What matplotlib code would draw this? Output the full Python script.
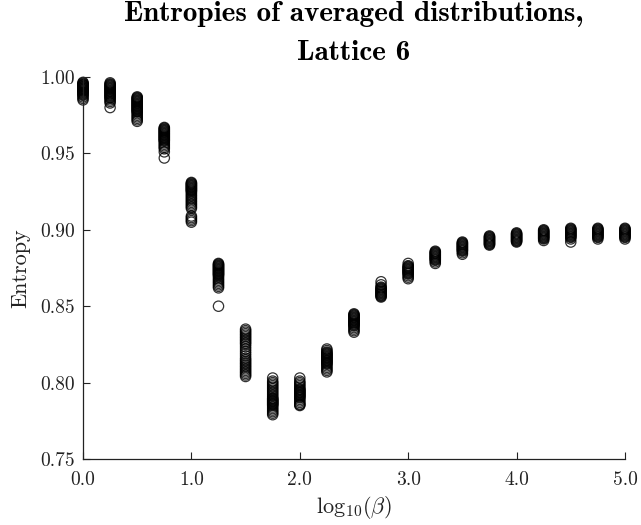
import numpy as np
import matplotlib
matplotlib.use('Agg')
import matplotlib.pyplot as plt
from matplotlib.ticker import FormatStrFormatter

# log10(beta) positions and entropy samples
log_beta = [0.0, 0.25, 0.5, 0.75, 1.0, 1.25, 1.5, 1.75, 2.0, 2.25, 2.5,
            2.75, 3.0, 3.25, 3.5, 3.75, 4.0, 4.25, 4.5, 4.75, 5.0]

entropy = [
    [0.9965, 0.996, 0.9955, 0.995, 0.9948, 0.9945, 0.994, 0.9937, 0.9935, 0.993, 0.9927, 0.9925, 0.992, 0.9917,
     0.9915, 0.991, 0.9905, 0.990, 0.9895, 0.989, 0.9885, 0.988, 0.987, 0.986, 0.985],
    [0.9962, 0.9955, 0.995, 0.9945, 0.994, 0.9935, 0.993, 0.9925, 0.992, 0.9915, 0.991, 0.9905, 0.990, 0.9895,
     0.989, 0.9885, 0.988, 0.9875, 0.987, 0.9865, 0.986, 0.985, 0.984, 0.983, 0.980],
    [0.987, 0.9865, 0.986, 0.9855, 0.985, 0.9845, 0.984, 0.9835, 0.983, 0.9825, 0.982, 0.9815, 0.981, 0.9805,
     0.980, 0.9795, 0.979, 0.9785, 0.978, 0.9775, 0.977, 0.976, 0.975, 0.974, 0.973, 0.972, 0.971],
    [0.967, 0.9665, 0.966, 0.9655, 0.965, 0.9645, 0.964, 0.9635, 0.963, 0.9625, 0.962, 0.9615, 0.961, 0.9605,
     0.960, 0.9595, 0.959, 0.9585, 0.958, 0.957, 0.956, 0.955, 0.954, 0.953, 0.951, 0.947],
    [0.931, 0.9305, 0.930, 0.9295, 0.929, 0.9285, 0.928, 0.9275, 0.927, 0.9265, 0.926, 0.9255, 0.925, 0.924,
     0.923, 0.922, 0.921, 0.920, 0.919, 0.918, 0.917, 0.916, 0.915, 0.914, 0.909, 0.908, 0.907, 0.906, 0.905],
    [0.878, 0.8775, 0.877, 0.8765, 0.876, 0.8755, 0.875, 0.8745, 0.874, 0.8735, 0.873, 0.8725, 0.872, 0.8715,
     0.871, 0.8705, 0.870, 0.869, 0.868, 0.867, 0.866, 0.865, 0.864, 0.863, 0.862, 0.850],
    [0.835, 0.834, 0.833, 0.832, 0.831, 0.830, 0.829, 0.828, 0.827, 0.826, 0.825, 0.8235, 0.822, 0.8205,
     0.819, 0.8175, 0.816, 0.815, 0.814, 0.813, 0.812, 0.811, 0.810, 0.809, 0.808, 0.807, 0.806, 0.805, 0.804],
    [0.803, 0.801, 0.800, 0.799, 0.798, 0.797, 0.796, 0.795, 0.794, 0.793, 0.792, 0.791, 0.790, 0.7895,
     0.789, 0.7885, 0.788, 0.7875, 0.787, 0.7865, 0.786, 0.7855, 0.785, 0.784, 0.783, 0.782, 0.781, 0.780, 0.779],
    [0.803, 0.801, 0.800, 0.799, 0.798, 0.797, 0.796, 0.7955, 0.795, 0.7945, 0.794, 0.7935, 0.793, 0.7925,
     0.792, 0.7915, 0.791, 0.7905, 0.790, 0.789, 0.788, 0.787, 0.786, 0.7855, 0.785],
    [0.822, 0.821, 0.820, 0.8195, 0.819, 0.8185, 0.818, 0.8175, 0.817, 0.8165, 0.816, 0.8155, 0.815, 0.8145,
     0.814, 0.8135, 0.813, 0.8125, 0.812, 0.811, 0.810, 0.809, 0.808, 0.807],
    [0.845, 0.8445, 0.844, 0.8435, 0.843, 0.8425, 0.842, 0.8415, 0.841, 0.8405, 0.840, 0.8395, 0.839, 0.8385,
     0.838, 0.8375, 0.837, 0.836, 0.835, 0.834, 0.833],
    [0.866, 0.864, 0.8625, 0.862, 0.8615, 0.861, 0.8605, 0.860, 0.8595, 0.859, 0.8585, 0.858, 0.8575, 0.857,
     0.8565, 0.856],
    [0.878, 0.8765, 0.876, 0.8755, 0.875, 0.8745, 0.874, 0.8735, 0.873, 0.8725, 0.872, 0.8715, 0.871, 0.870,
     0.869, 0.868],
    [0.886, 0.8855, 0.885, 0.8845, 0.884, 0.8835, 0.883, 0.8825, 0.882, 0.8815, 0.881, 0.8805, 0.880, 0.879,
     0.878],
    [0.892, 0.8915, 0.891, 0.8905, 0.890, 0.8895, 0.889, 0.8885, 0.888, 0.8875, 0.887, 0.8865, 0.886, 0.885,
     0.884],
    [0.896, 0.8955, 0.895, 0.8945, 0.894, 0.8935, 0.893, 0.8925, 0.892, 0.8915, 0.891, 0.8905, 0.890],
    [0.898, 0.8975, 0.897, 0.8965, 0.896, 0.8955, 0.895, 0.8945, 0.894, 0.8935, 0.893, 0.8925, 0.892],
    [0.900, 0.8995, 0.899, 0.8985, 0.898, 0.8975, 0.897, 0.8965, 0.896, 0.8955, 0.895, 0.8945, 0.894, 0.893],
    [0.901, 0.9005, 0.900, 0.8995, 0.899, 0.8985, 0.898, 0.8975, 0.897, 0.8965, 0.896, 0.8955, 0.895, 0.894,
     0.892],
    [0.901, 0.9005, 0.900, 0.8995, 0.899, 0.8985, 0.898, 0.8975, 0.897, 0.8965, 0.896, 0.8955, 0.895, 0.894],
    [0.901, 0.9005, 0.900, 0.8995, 0.899, 0.8985, 0.898, 0.8975, 0.897, 0.8965, 0.896, 0.8955, 0.895, 0.894],
]

x_ticks = [0.0, 1.0, 2.0, 3.0, 4.0, 5.0]
y_ticks = [0.75, 0.80, 0.85, 0.90, 0.95, 1.00]

plt.rcParams['font.family'] = 'cmr10'
plt.rcParams['mathtext.fontset'] = 'cm'
plt.rcParams['axes.formatter.use_mathtext'] = True

fig = plt.figure(figsize=(6.41, 5.25), dpi=100)
ax = fig.add_axes([0.1295, 0.1257, 0.8455, 0.7276])

for xv, ys in zip(log_beta, entropy):
    ax.scatter(np.full(len(ys), xv), ys, s=55, facecolors='none',
               edgecolors='black', linewidths=0.9, alpha=0.8, clip_on=False)

ax.set_xlim(0, 5)
ax.set_ylim(0.75, 1.0)
ax.set_xticks(x_ticks)
ax.set_yticks(y_ticks)
ax.xaxis.set_major_formatter(FormatStrFormatter('%.1f'))
ax.yaxis.set_major_formatter(FormatStrFormatter('%.2f'))
ax.tick_params(direction='in', length=5, width=0.8, labelsize=14,
               colors='#222222')
ax.tick_params(axis='x', pad=9)
ax.tick_params(axis='y', pad=6)
for side in ['top', 'right']:
    ax.spines[side].set_visible(False)
for side in ['left', 'bottom']:
    ax.spines[side].set_linewidth(0.9)
    ax.spines[side].set_color('#222222')

ax.set_xlabel(r'$\mathrm{log}_{10}(\beta)$', fontsize=16, labelpad=3, color='#222222')
ax.set_ylabel('Entropy', fontsize=16, labelpad=7, color='#222222')
ax.set_title('Entropies of averaged distributions,\nLattice 6',
             fontfamily='cmb10', fontsize=21, linespacing=1.65, pad=12)

fig.savefig('out.png', dpi=100)
